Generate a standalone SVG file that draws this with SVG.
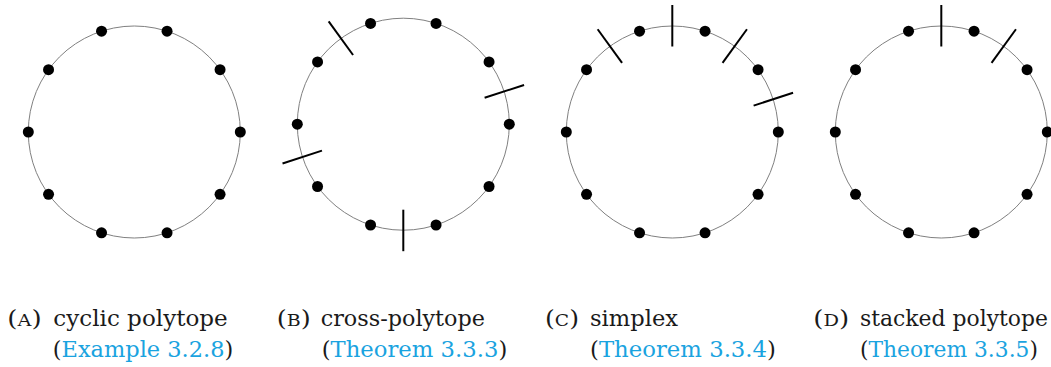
<svg xmlns="http://www.w3.org/2000/svg" xmlns:xlink="http://www.w3.org/1999/xlink" width="1051" height="367" viewBox="0 0 1051 367">
<style>
.ring{fill:none;stroke:#808080;stroke-width:1}
.dot{fill:#000}
.bar{stroke:#000;stroke-width:2;fill:none}
text{font-family:'DejaVu Serif','Liberation Serif',serif;font-size:23px;fill:#1a1a1a}
.sc{font-size:17px}
.ref{fill:#1aa3e0}
</style>
<defs>
<g id="ringdots">
<circle class="ring" cx="0" cy="0" r="106"/>
<circle class="dot" cx="106" cy="0" r="5.5"/>
<circle class="dot" cx="85.756" cy="-62.305" r="5.5"/>
<circle class="dot" cx="32.756" cy="-100.812" r="5.5"/>
<circle class="dot" cx="-32.756" cy="-100.812" r="5.5"/>
<circle class="dot" cx="-85.756" cy="-62.305" r="5.5"/>
<circle class="dot" cx="-106" cy="0" r="5.5"/>
<circle class="dot" cx="-85.756" cy="62.305" r="5.5"/>
<circle class="dot" cx="-32.756" cy="100.812" r="5.5"/>
<circle class="dot" cx="32.756" cy="100.812" r="5.5"/>
<circle class="dot" cx="85.756" cy="62.305" r="5.5"/>
</g>
<line id="tick" class="bar" x1="85.5" y1="0" x2="127" y2="0"/>
</defs>

<g id="figA">
<use xlink:href="#ringdots" transform="translate(134.3,132)"/>
<text x="7.3" y="326" textLength="34.4" lengthAdjust="spacingAndGlyphs">(<tspan class="sc">A</tspan>)</text>
<text x="53.3" y="326" textLength="174.4" lengthAdjust="spacingAndGlyphs">cyclic polytope</text>
<text x="52.7" y="357" textLength="180.6" lengthAdjust="spacingAndGlyphs">(<tspan class="ref">Example 3.2.8</tspan>)</text>
</g>

<g id="figB">
<use xlink:href="#ringdots" transform="translate(403.3,124.2)"/>
<g id="ticksB" transform="translate(403.3,124.2)">
<use xlink:href="#tick" transform="rotate(-18)"/>
<use xlink:href="#tick" transform="rotate(-126)"/>
<use xlink:href="#tick" transform="rotate(-198)"/>
<use xlink:href="#tick" transform="rotate(-270)"/>
</g>
<text x="276.7" y="326" textLength="34" lengthAdjust="spacingAndGlyphs">(<tspan class="sc">B</tspan>)</text>
<text x="320.7" y="326" textLength="164.3" lengthAdjust="spacingAndGlyphs">cross-polytope</text>
<text x="321.7" y="357" textLength="185.6" lengthAdjust="spacingAndGlyphs">(<tspan class="ref">Theorem 3.3.3</tspan>)</text>
</g>

<g id="figC">
<use xlink:href="#ringdots" transform="translate(672.3,132)"/>
<g id="ticksC" transform="translate(672.3,132)">
<use xlink:href="#tick" transform="rotate(-18)"/>
<use xlink:href="#tick" transform="rotate(-54)"/>
<use xlink:href="#tick" transform="rotate(-90)"/>
<use xlink:href="#tick" transform="rotate(-126)"/>
</g>
<text x="545" y="326" textLength="34" lengthAdjust="spacingAndGlyphs">(<tspan class="sc">C</tspan>)</text>
<text x="590" y="326" textLength="88" lengthAdjust="spacingAndGlyphs">simplex</text>
<text x="590" y="357" textLength="186" lengthAdjust="spacingAndGlyphs">(<tspan class="ref">Theorem 3.3.4</tspan>)</text>
</g>

<g id="figD">
<use xlink:href="#ringdots" transform="translate(941.3,132)"/>
<g id="ticksD" transform="translate(941.3,132)">
<use xlink:href="#tick" transform="rotate(-54)"/>
<use xlink:href="#tick" transform="rotate(-90)"/>
</g>
<text x="813.3" y="326" textLength="36" lengthAdjust="spacingAndGlyphs">(<tspan class="sc">D</tspan>)</text>
<text x="860" y="326" font-size="22" textLength="188" lengthAdjust="spacingAndGlyphs">stacked polytope</text>
<text x="860" y="357" textLength="178" lengthAdjust="spacingAndGlyphs">(<tspan class="ref">Theorem 3.3.5</tspan>)</text>
</g>
</svg>
